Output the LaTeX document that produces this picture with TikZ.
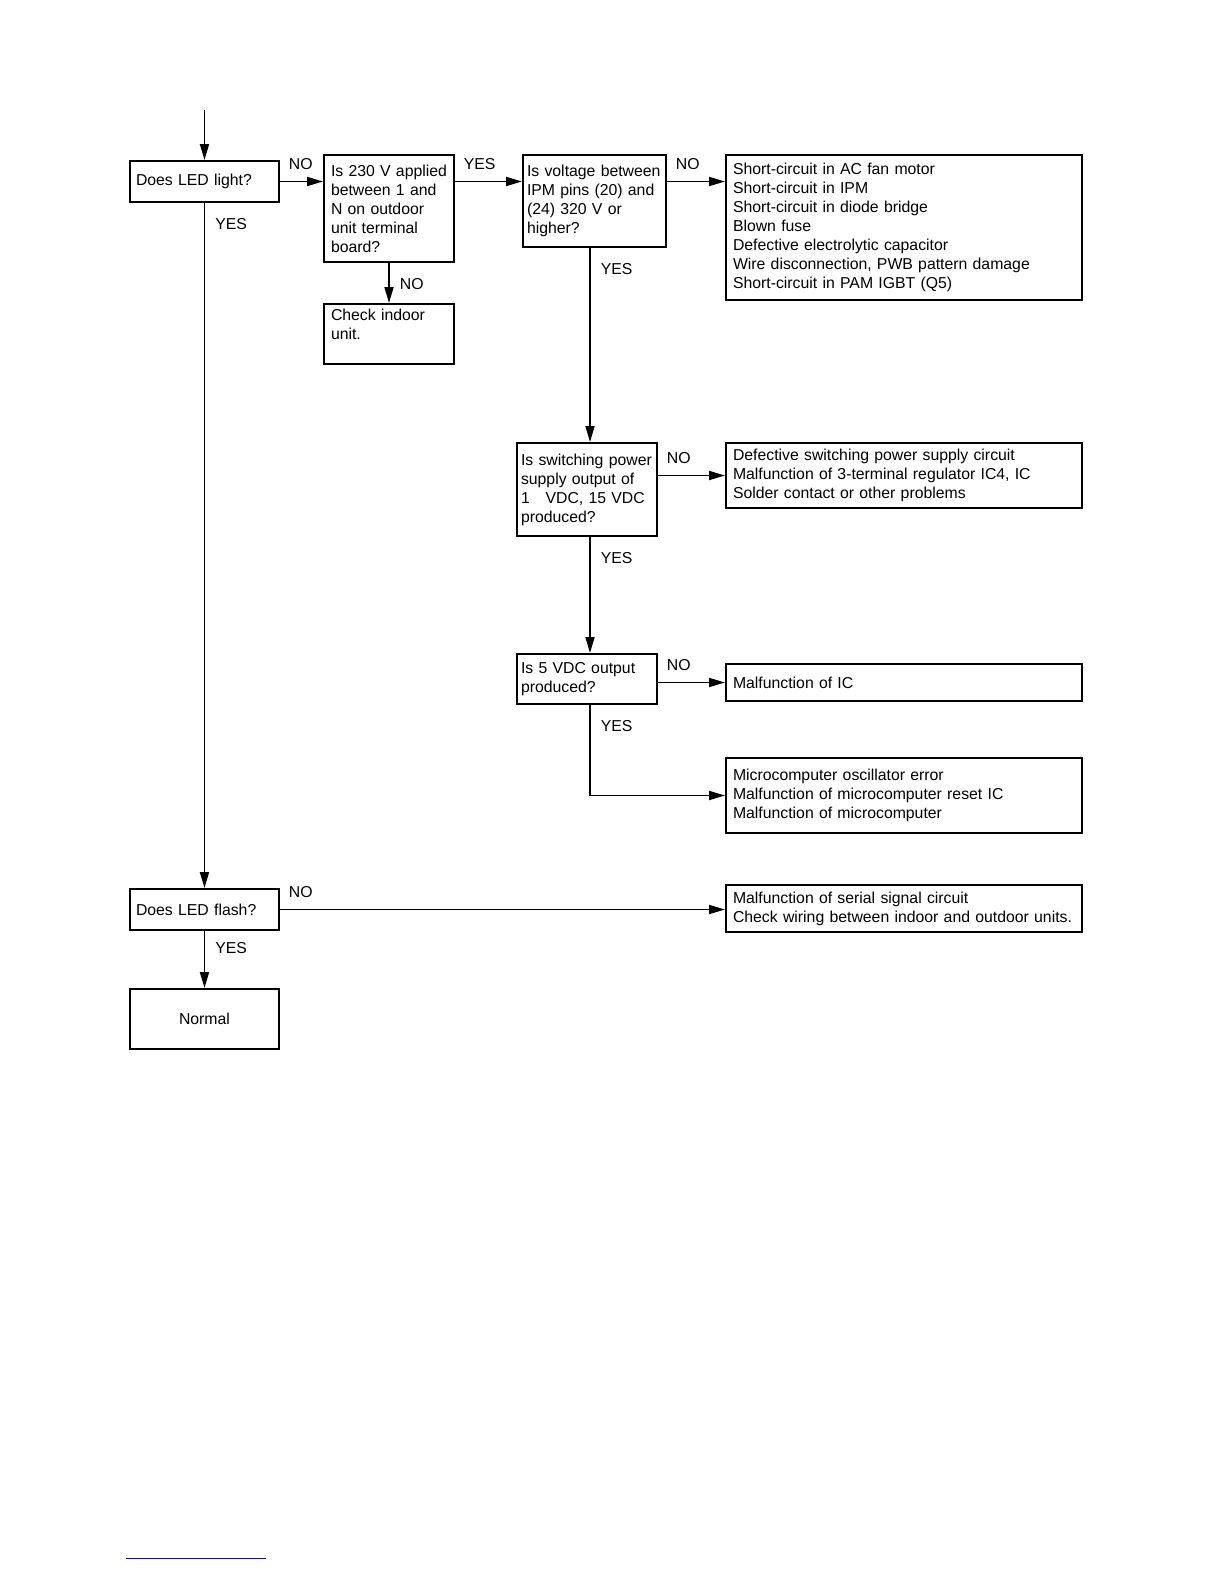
\documentclass[tikz,border=0pt]{standalone}
\usepackage{fontspec}
\setmainfont{Liberation Sans}
\usepackage{tikz}
\usetikzlibrary{arrows.meta, positioning}

\begin{document}
\begin{tikzpicture}[
    x=0.5pt, y=-0.5pt,
    block/.style={
        rectangle,
        draw=black,
        line width=1pt,
        anchor=north west,
        align=left,
        inner xsep=3pt,
        inner ysep=1pt,
        font=\fontsize{7.9}{9.5}\selectfont
    },
    wide/.style={
        block,
        inner xsep=3.5pt,
        text width=171pt
    },
    flow/.style={-{Triangle[length=8pt, width=4.5pt]}, line width=0.9pt},
    tag/.style={inner sep=0pt, font=\fontsize{7.9}{9.5}\selectfont}
]
\useasboundingbox (0,0) rectangle (1224,1584);

% Left column
\node[block, text width=68.5pt, minimum height=20.5pt] (ledlight) at (129,160) {Does LED light?};
\node[block, text width=68.5pt, minimum height=20.5pt] (flash) at (129,888) {Does LED flash?};
\node[block, text width=68.5pt, minimum height=30pt, align=center] (normal) at (129,988) {Normal};

% Power checks
\node[block, inner xsep=3.5pt, text width=58pt, minimum height=53.5pt] (supply) at (323,154)
    {Is 230 V applied\\between 1 and\\N on outdoor\\unit terminal\\board?};
\node[block, inner xsep=3.5pt, text width=58pt, minimum height=30pt] (indoor) at (323,303)
    {Check indoor\\unit.\\\mbox{}};
\node[block, inner xsep=2pt, text width=67.5pt, minimum height=46pt] (volt) at (522,154)
    {Is voltage between\\IPM pins (20) and\\(24) 320 V or\\higher?};
\node[block, inner xsep=2pt, text width=66pt, minimum height=46.5pt] (switch) at (516,442)
    {Is switching power\\supply output of\\1\quad VDC, 15 VDC\\produced?};
\node[block, inner xsep=2pt, text width=66pt, minimum height=25pt] (vdc) at (516,653)
    {Is 5 VDC output\\produced?};

% Causes
\node[wide, minimum height=72.5pt] (causes) at (725,154)
    {Short-circuit in AC fan motor\\Short-circuit in IPM\\Short-circuit in diode bridge\\Blown fuse\\Defective electrolytic capacitor\\Wire disconnection, PWB pattern damage\\Short-circuit in PAM IGBT (Q5)};
\node[wide, minimum height=32.5pt] (psu) at (725,442)
    {Defective switching power supply circuit\\Malfunction of 3-terminal regulator IC4, IC\\Solder contact or other problems};
\node[wide, minimum height=18.5pt] (icfail) at (725,663) {Malfunction of IC};
\node[wide, minimum height=37.5pt] (micro) at (725,757)
    {Microcomputer oscillator error\\Malfunction of microcomputer reset IC\\Malfunction of microcomputer};
\node[wide, minimum height=23.5pt] (serial) at (725,884)
    {Malfunction of serial signal circuit\\Check wiring between indoor and outdoor units.};

\coordinate (entry) at (204,110);
\coordinate (spine) at (590,0);

% Connectors
\draw[flow] (entry -| ledlight.north) -- (ledlight.north);
\draw[flow] (ledlight.east) -- node[tag, above right=5.5pt and 4pt, pos=0] {NO} (ledlight.east -| supply.west);
\draw[flow] (supply.east |- ledlight.east) -- node[tag, above right=5.5pt and 4pt, pos=0] {YES} (volt.west |- ledlight.east);
\draw[flow] (volt.east |- ledlight.east) -- node[tag, above right=5.5pt and 4pt, pos=0] {NO} (causes.west |- ledlight.east);
\draw[flow] (supply.south) -- node[tag, below right=7.5pt and 5pt, pos=0] {NO} (indoor.north);
\draw[flow] (volt.south -| spine) -- node[tag, below right=7.5pt and 5pt, pos=0] {YES} (switch.north -| spine);
\draw[flow] (switch.east |- psu.west) -- node[tag, above right=5.5pt and 4pt, pos=0] {NO} (psu.west);
\draw[flow] (switch.south -| spine) -- node[tag, below right=7.5pt and 5pt, pos=0] {YES} (vdc.north -| spine);
\draw[flow] (vdc.east |- icfail.west) -- node[tag, above right=5.5pt and 4pt, pos=0] {NO} (icfail.west);
\draw[flow] (vdc.south -| spine) |- node[tag, below right=7.5pt and 5pt, pos=0] {YES} (micro.west);
\draw[flow] (ledlight.south) -- node[tag, below right=7.5pt and 5pt, pos=0] {YES} (flash.north);
\draw[flow] (flash.east) -- node[tag, above right=5.5pt and 4pt, pos=0] {NO} (flash.east -| serial.west);
\draw[flow] (flash.south) -- node[tag, below right=5.5pt and 5pt, pos=0] {YES} (normal.north);

\draw[blue, line width=0.5pt] (126,1558) -- (266,1558);

\end{tikzpicture}
\end{document}
